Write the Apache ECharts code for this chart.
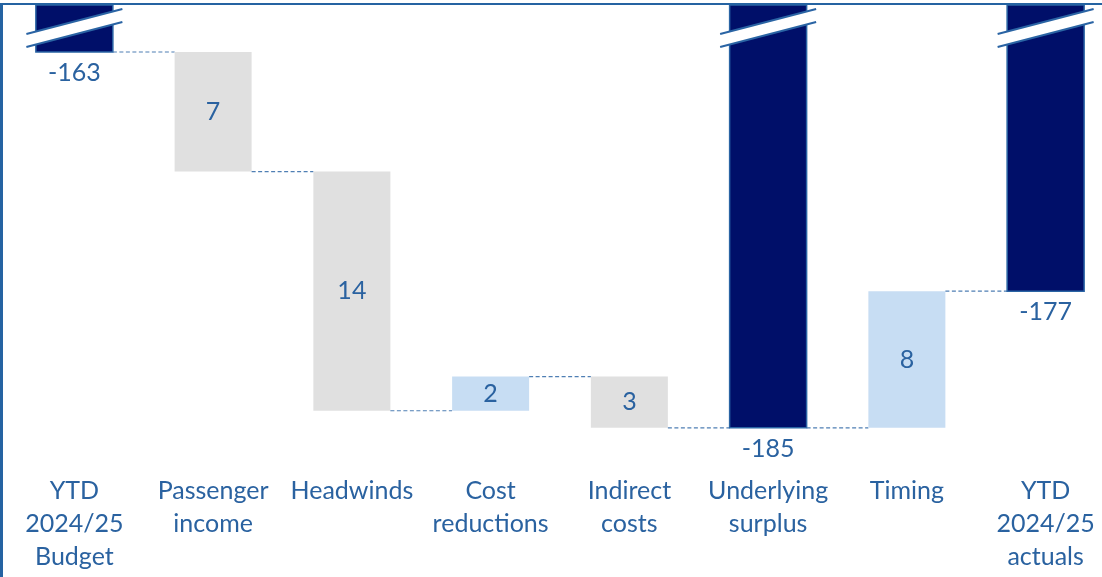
<!DOCTYPE html>
<html>
<head>
<meta charset="utf-8">
<script src="https://cdn.jsdelivr.net/npm/echarts@6/dist/echarts.min.js"></script>
<style>
  html, body { margin: 0; padding: 0; background: #ffffff; }
  #chart { width: 1102px; height: 577px; }
</style>
</head>
<body>
<div id="chart"></div>
<script>
// Waterfall: budget to actuals, £m
const categories = ['YTD\n2024/25\nBudget', 'Passenger\nincome', 'Headwinds', 'Cost\nreductions',
                    'Indirect\ncosts', 'Underlying\nsurplus', 'Timing', 'YTD\n2024/25\nactuals'];
const kinds = ['total', 'down', 'down', 'up', 'down', 'total', 'up', 'total'];
const values = [-163, 7, 14, 2, 3, -185, 8, -177];

// Totals are drawn as broken bars running up to the top of the value axis
const Y_MIN = -187;
const Y_MAX = -160.25;

const NAVY = '#000f69';
const EDGE = '#2a64a4';
const GREY = '#e0e0e0';
const LIGHT = '#c7ddf3';
const TEXT = '#2a62a0';
const FONT = '25px Lato, "Open Sans", sans-serif';

// Running level → [low, high, label] per category
const rows = [];
const levels = [];
let level = 0;
kinds.forEach((k, i) => {
  const v = values[i];
  if (k === 'total') {
    level = v;
    rows.push([i, v, Y_MAX, k, String(v)]);
  } else if (k === 'down') {
    const hi = level;
    level -= v;
    rows.push([i, level, hi, k, String(v)]);
  } else {
    const lo = level;
    level += v;
    rows.push([i, lo, level, k, String(v)]);
  }
  levels.push(level);
});

function renderItem(params, api) {
  const i = params.dataIndex;
  const kind = kinds[i];
  const lo = api.value(1), hi = api.value(2);
  const step = api.size([1, 0])[0];
  const bw = step * 0.555;
  const pTop = api.coord([i, hi]);
  const pBot = api.coord([i, lo]);
  const cx = pTop[0];
  const x0 = cx - bw / 2;
  const children = [];

  if (kind === 'total') {
    children.push({
      type: 'rect',
      shape: { x: x0, y: pTop[1], width: bw, height: pBot[1] - pTop[1] },
      style: { fill: NAVY, stroke: EDGE, lineWidth: 1.5 }
    });
    // break mark near the top of the bar
    const y0 = pTop[1];
    const L = cx - 48, R = cx + 48;
    children.push({
      type: 'polygon',
      shape: { points: [[L, y0 + 29], [R, y0 + 4], [R, y0 + 17], [L, y0 + 42]] },
      style: { fill: '#ffffff' }
    });
    children.push({
      type: 'line',
      shape: { x1: L, y1: y0 + 29, x2: R, y2: y0 + 4 },
      style: { stroke: EDGE, lineWidth: 2 }
    });
    children.push({
      type: 'line',
      shape: { x1: L, y1: y0 + 42, x2: R, y2: y0 + 17 },
      style: { stroke: EDGE, lineWidth: 2 }
    });
    children.push({
      type: 'text',
      style: {
        text: api.value(4), x: cx, y: pBot[1] + 21,
        fill: TEXT, font: FONT, align: 'center', verticalAlign: 'middle'
      }
    });
  } else {
    children.push({
      type: 'rect',
      shape: { x: x0, y: pTop[1], width: bw, height: pBot[1] - pTop[1] },
      style: { fill: kind === 'up' ? LIGHT : GREY }
    });
    children.push({
      type: 'text',
      style: {
        text: api.value(4), x: cx, y: (pTop[1] + pBot[1]) / 2,
        fill: TEXT, font: FONT, align: 'center', verticalAlign: 'middle'
      }
    });
  }

  // dashed connector to the next bar
  if (i < categories.length - 1) {
    const yl = api.coord([i, levels[i]])[1];
    children.push({
      type: 'line',
      shape: { x1: cx + bw / 2, y1: yl, x2: cx + step - bw / 2, y2: yl },
      style: { stroke: '#4f7fb4', lineWidth: 1.2, lineDash: [4, 2.5] }
    });
  }
  return { type: 'group', children };
}

const chart = echarts.init(document.getElementById('chart'), null, { renderer: 'canvas' });
chart.setOption({
  animation: false,
  backgroundColor: '#ffffff',
  grid: { left: 5, top: 5, width: 1110, height: 457, outerBoundsMode: 'none', containLabel: false },
  xAxis: {
    type: 'category',
    data: categories,
    axisLine: { show: false },
    axisTick: { show: false },
    axisLabel: {
      interval: 0,
      margin: 12,
      color: TEXT,
      fontSize: 25,
      fontFamily: 'Lato, "Open Sans", sans-serif',
      lineHeight: 33,
      verticalAlign: 'top',
      hideOverlap: false
    }
  },
  yAxis: { type: 'value', min: Y_MIN, max: Y_MAX, show: false, splitLine: { show: false } },
  series: [{
    type: 'custom',
    renderItem: renderItem,
    clip: false,
    encode: { x: 0, y: [1, 2] },
    data: rows
  }],
  graphic: [
    { type: 'rect', left: 0, top: 3, shape: { width: 1102, height: 2 }, style: { fill: '#2563a2' }, z: 100 },
    { type: 'rect', left: 0, top: 3, shape: { width: 3, height: 574 }, style: { fill: '#2563a2' }, z: 100 }
  ]
});
</script>
</body>
</html>
